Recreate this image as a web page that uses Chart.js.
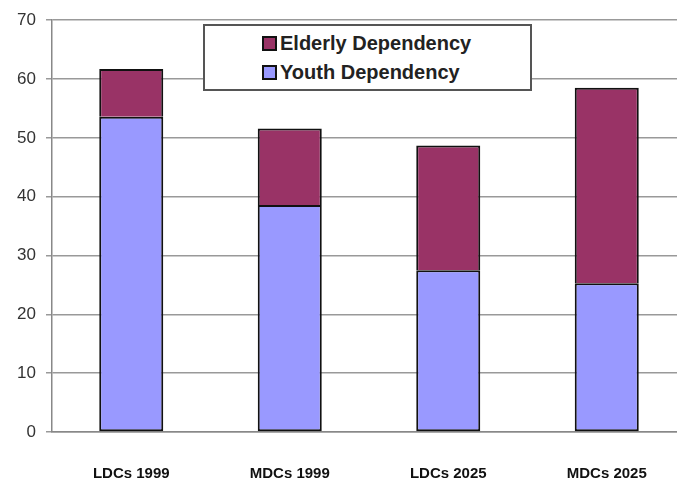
<!DOCTYPE html>
<html>
<head>
<meta charset="utf-8">
<script src="https://cdn.jsdelivr.net/npm/chart.js@4.4.1/dist/chart.umd.min.js"></script>
<style>
  html, body { margin: 0; padding: 0; background: #fff; overflow: hidden; }
  #wrap { position: relative; width: 700px; height: 494px; }
  #legend {
    position: absolute; left: 203px; top: 24px; width: 329px; height: 67px;
    border: 2px solid #555; background: #fff; box-sizing: border-box;
    font-family: "Liberation Sans", Arial, sans-serif; font-weight: bold;
    font-size: 20px; color: #222;
  }
  .row { position: absolute; left: 57px; display: flex; align-items: center; }
  .sw { width: 11px; height: 11px; border: 2px solid #111; margin-right: 3px; }
</style>
</head>
<body>
<div id="wrap">
  <canvas id="c" width="700" height="494"></canvas>
  <div id="legend"></div>
</div>
<script>
// Dependency ratios by region group and year
const categories = ["LDCs 1999", "MDCs 1999", "LDCs 2025", "MDCs 2025"];
const youthDependency = [53.6, 38.6, 27.5, 25.3];
const elderlyDependency = [8.1, 13.0, 21.2, 33.2];
const yTicks = [0, 10, 20, 30, 40, 50, 60, 70];

const youthColor = "#9999ff";
const elderlyColor = "#993366";

const datasets = [
  { label: "Youth Dependency", data: youthDependency, backgroundColor: youthColor, borderSkipped: false },
  // top segment shares the youth bar's top edge, so skip its own bottom edge
  { label: "Elderly Dependency", data: elderlyDependency, backgroundColor: elderlyColor, borderSkipped: "bottom" }
].map(d => Object.assign(d, {
  borderColor: "#111", borderWidth: 2,
  categoryPercentage: 1.0, barPercentage: 0.404
}));

// Legend box lists the top segment first
const legend = document.getElementById("legend");
[...datasets].reverse().forEach((d, i) => {
  const row = document.createElement("div");
  row.className = "row";
  row.style.top = (i === 0 ? 6 : 35) + "px";
  const sw = document.createElement("span");
  sw.className = "sw";
  sw.style.background = d.backgroundColor;
  const tx = document.createElement("span");
  tx.textContent = d.label;
  row.appendChild(sw); row.appendChild(tx);
  legend.appendChild(row);
});

new Chart(document.getElementById("c"), {
  type: "bar",
  data: { labels: categories, datasets },
  options: {
    responsive: false,
    animation: false,
    layout: { padding: { top: 18, right: 14, left: 0, bottom: 0 } },
    plugins: { legend: { display: false }, tooltip: { enabled: false } },
    scales: {
      x: {
        stacked: true,
        grid: { display: false, drawTicks: false },
        border: { display: true, color: "#888", width: 1.5 },
        ticks: {
          padding: 33,
          color: "#111",
          font: { family: "Liberation Sans, Arial, sans-serif", size: 15, weight: "bold" }
        },
        afterFit: s => { s.height = 62; }
      },
      y: {
        stacked: true,
        min: 0, max: 70,
        afterBuildTicks: s => { s.ticks = yTicks.map(v => ({ value: v })); },
        grid: { color: "#999", lineWidth: 1.5, tickLength: 6 },
        border: { display: true, color: "#888", width: 1.5 },
        ticks: {
          padding: 10,
          color: "#333",
          font: { family: "Liberation Sans, Arial, sans-serif", size: 17 }
        },
        afterFit: s => { s.width = 52; }
      }
    }
  }
});
</script>
</body>
</html>
